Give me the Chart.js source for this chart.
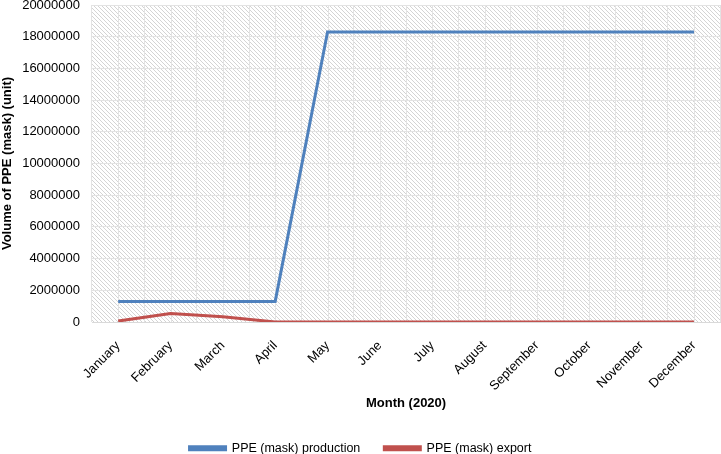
<!DOCTYPE html>
<html>
<head>
<meta charset="utf-8">
<script src="https://cdn.jsdelivr.net/npm/chart.js@4.4.1/dist/chart.umd.min.js"></script>
<style>
html,body{margin:0;padding:0;background:#fff;}
#wrap{width:721px;height:454px;position:relative;}
</style>
</head>
<body>
<div id="wrap"><canvas id="c" width="721" height="454"></canvas></div>
<script>
const months = ["January","February","March","April","May","June","July","August","September","October","November","December"];
const production = [1300000,1300000,1300000,1300000,18300000,18300000,18300000,18300000,18300000,18300000,18300000,18300000];
const exportVals = [60000,530000,330000,0,0,0,0,0,0,0,0,0];
const seriesNames = ["PPE (mask) production","PPE (mask) export"];
const yTitle = "Volume of PPE (mask) (unit)";
const xTitle = "Month (2020)";

const FONT = "'Liberation Sans', Arial, sans-serif";

function makePattern(){
  const p = document.createElement('canvas');
  p.width = 4; p.height = 4;
  const g = p.getContext('2d');
  g.fillStyle = '#ffffff'; g.fillRect(0,0,4,4);
  g.strokeStyle = '#d4d4d4'; g.lineWidth = 1;
  g.beginPath();
  g.moveTo(-1,-1); g.lineTo(5,5);
  g.moveTo(-1,3); g.lineTo(1,5);
  g.moveTo(3,-1); g.lineTo(5,1);
  g.stroke();
  return p;
}

const bgPlugin = {
  id:'bgPlugin',
  beforeDraw(chart){
    const {ctx, chartArea:a, scales} = chart;
    ctx.save();
    ctx.fillStyle = ctx.createPattern(makePattern(),'repeat');
    ctx.fillRect(a.left,a.top,a.right-a.left,a.bottom-a.top);
    const x = scales.x;
    ctx.strokeStyle = '#e3e3e3'; ctx.lineWidth = 1;
    ctx.beginPath();
    for(let i=0;i<months.length;i++){
      const px = Math.round(x.getPixelForTick(i))+0.5;
      ctx.moveTo(px,a.top); ctx.lineTo(px,a.bottom);
    }
    ctx.stroke();
    ctx.restore();
  }
};

new Chart(document.getElementById('c'),{
  type:'line',
  data:{
    labels:months,
    datasets:[
      {label:seriesNames[0],data:production,borderColor:'#4F81BD',backgroundColor:'#4F81BD',borderWidth:3,pointRadius:0,tension:0,fill:false},
      {label:seriesNames[1],data:exportVals,borderColor:'#C0504D',backgroundColor:'#C0504D',borderWidth:3,pointRadius:0,tension:0,fill:false}
    ]
  },
  options:{
    responsive:false,
    animation:false,
    layout:{padding:{left:0,right:0,top:5,bottom:0}},
    scales:{
      x:{
        offset:true,
        grid:{offset:true,color:'#e3e3e3',drawTicks:false,lineWidth:1},
        border:{color:'#d9d9d9'},
        ticks:{minRotation:45,maxRotation:45,color:'#000',font:{family:FONT,size:13},padding:16,autoSkip:false},
        title:{display:true,text:xTitle,color:'#000',font:{family:FONT,size:13,weight:'bold'},padding:{top:0,bottom:7}},
        afterFit(scale){ scale.height = 96; scale.paddingTop = 0; scale.paddingBottom = 0; }
      },
      y:{
        min:0,max:20000000,
        grid:{color:'#e3e3e3',drawTicks:false},
        border:{display:false},
        ticks:{stepSize:2000000,color:'#000',font:{family:FONT,size:13},padding:12,callback:v=>String(v)},
        title:{display:true,text:yTitle,color:'#000',font:{family:FONT,size:13,weight:'bold'},padding:{top:0,bottom:0}},
        afterFit(scale){ scale.width = 92; scale.paddingTop = 0; scale.paddingBottom = 0; }
      }
    },
    plugins:{
      legend:{
        position:'bottom',
        maxHeight:36,
        labels:{boxWidth:36,boxHeight:3,color:'#000',font:{family:FONT,size:12.5},padding:24}
      },
      tooltip:{enabled:false}
    }
  },
  plugins:[bgPlugin]
});
</script>
</body>
</html>
